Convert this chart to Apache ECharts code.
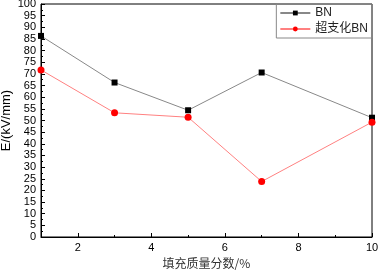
<!DOCTYPE html>
<html>
<head>
<meta charset="utf-8">
<script src="https://cdn.jsdelivr.net/npm/echarts@6/dist/echarts.min.js"></script>
<style>
  html, body { margin: 0; padding: 0; background: #fff; }
  #chart { width: 378px; height: 270px; }
</style>
</head>
<body>
<div id="chart"></div>
<script>
  // filler mass fraction (%)
  const fillX = [1, 3, 5, 7, 10]
  const bnValues = [86.3, 66.3, 54.4, 70.6, 51.2]
  const hbnValues = [71.7, 53.3, 51.4, 23.8, 49.3]
  const seriesNames = ["BN", "超支化BN"]
  const xMajorTicks = [2, 4, 6, 8, 10]
  const xMinorTicks = [3, 5, 7, 9]

  const font = "Liberation Sans, Arial, sans-serif"

  const options = {
    animation: false,
    grid: {
      left: 41,
      right: 6,
      top: 4,
      bottom: 33,
      outerBoundsMode: "none",
      show: true,
      borderColor: "#000",
      borderWidth: 1,
    },
    legend: {
      orient: "vertical",
      right: 6,
      top: 4,
      itemWidth: 30,
      itemHeight: 6,
      itemGap: 4,
      padding: [3, 4, 3, 3],
      borderColor: "#888",
      borderWidth: 1,
      textStyle: { fontFamily: "Liberation Sans, Noto Sans CJK SC, sans-serif", fontSize: 12, color: "#222" },
      data: seriesNames,
    },
    xAxis: [
      {
        type: "value",
        min: 1,
        max: 10,
        name: "填充质量分数/%",
        nameLocation: "middle",
        nameGap: 20,
        nameMoveOverlap: false,
        nameTextStyle: { fontFamily: "Noto Sans CJK SC", fontSize: 12, color: "#333" },
        splitLine: { show: false },
        axisLine: { lineStyle: { color: "#000", width: 1 } },
        axisTick: { inside: true, length: 4, customValues: xMajorTicks, lineStyle: { color: "#000" } },
        axisLabel: { customValues: xMajorTicks, fontFamily: font, fontSize: 11, color: "#000", margin: 5 },
      },
      {
        type: "value",
        min: 1,
        max: 10,
        position: "bottom",
        splitLine: { show: false },
        axisLine: { show: false },
        axisTick: { inside: true, length: 2, customValues: xMinorTicks, lineStyle: { color: "#000" } },
        axisLabel: { show: false },
      },
    ],
    yAxis: {
      type: "value",
      min: 0,
      max: 100,
      interval: 5,
      name: "E/(kV/mm)",
      nameLocation: "middle",
      nameGap: 28,
      nameMoveOverlap: false,
      nameTextStyle: { fontFamily: font, fontSize: 13, color: "#000" },
      splitLine: { show: false },
      axisLine: { show: true, lineStyle: { color: "#000", width: 1 } },
      axisTick: { inside: true, length: 4, lineStyle: { color: "#000" } },
      minorTick: { show: true, splitNumber: 2, length: 2, lineStyle: { color: "#000" } },
      axisLabel: { fontFamily: font, fontSize: 11, color: "#000", margin: 5 },
    },
    series: [
      {
        name: seriesNames[0],
        type: "line",
        data: fillX.map((x, i) => [x, bnValues[i]]),
        symbol: "rect",
        symbolSize: 6,
        lineStyle: { color: "#888", width: 1 },
        itemStyle: { color: "#000" },
      },
      {
        name: seriesNames[1],
        type: "line",
        data: fillX.map((x, i) => [x, hbnValues[i]]),
        symbol: "circle",
        symbolSize: 7,
        lineStyle: { color: "#ff8080", width: 1 },
        itemStyle: { color: "#ff0000" },
      },
    ],
  }

  let myChart = echarts.init(document.getElementById("chart"))
  myChart.setOption(options)
</script>
</body>
</html>
